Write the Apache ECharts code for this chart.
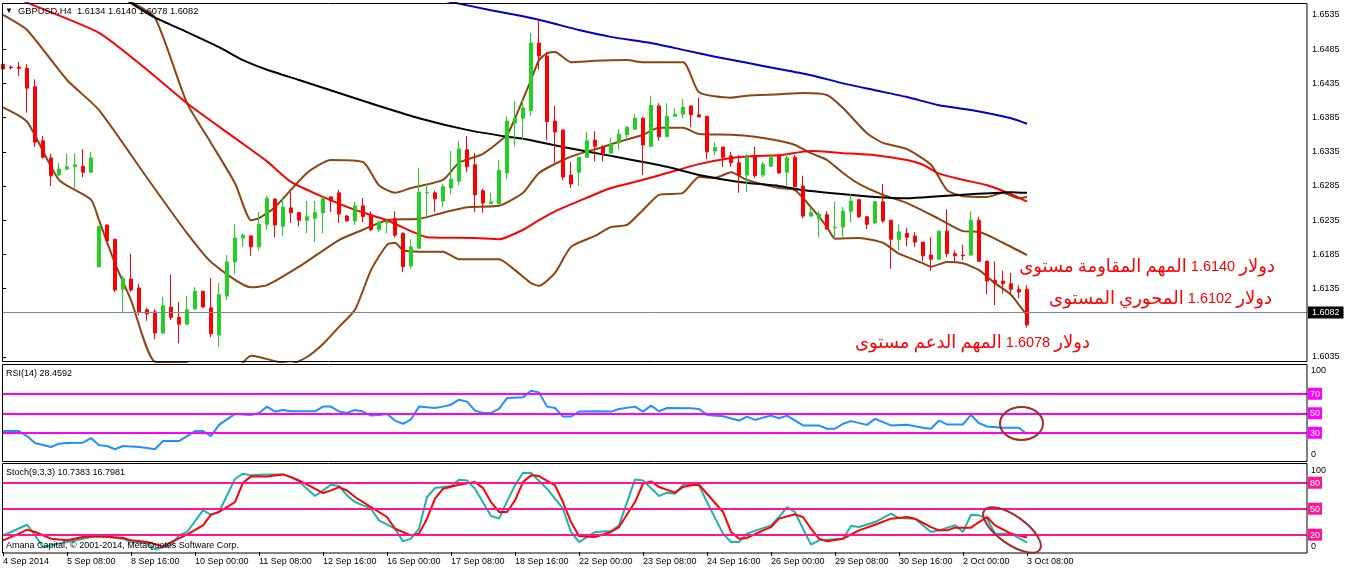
<!DOCTYPE html>
<html><head><meta charset="utf-8">
<script src="https://cdn.jsdelivr.net/npm/echarts@6/dist/echarts.min.js"></script>
<style>html,body{margin:0;padding:0;background:#fff}#c{width:1346px;height:571px}</style>
</head><body><div id="c"></div>
<script>
// ---------- DATA ----------
const symbolTitle = 'GBPUSD,H4';
const lastBar = {open: 1.6134, high: 1.6140, low: 1.6078, close: 1.6082};
const rsiTitle = 'RSI(14) 28.4592';
const stochTitle = 'Stoch(9,3,3) 10.7383 16.7981';
const copyright = 'Amana Capital, \u00A9 2001-2014, MetaQuotes Software Corp.';

const open = [1.6463,1.6459,1.6459,1.6457,1.6430,1.6351,1.6326,1.6301,1.6310,1.6313,
1.6314,1.6305,1.6167,1.6228,1.6207,1.6134,1.6149,1.6136,1.6104,1.6101,
1.6070,1.6108,1.6093,1.6083,1.6105,1.6131,1.6107,1.6067,1.6124,1.6174,
1.6209,1.6212,1.6196,1.6229,1.6266,1.6226,1.6253,1.6246,1.6235,1.6238,
1.6246,1.6269,1.6275,1.6241,1.6234,1.6256,1.6243,1.6221,1.6231,1.6237,
1.6216,1.6168,1.6194,1.6275,1.6275,1.6263,1.6282,1.6292,1.6338,1.6316,
1.6278,1.6259,1.6259,1.6304,1.6377,1.6384,1.6395,1.6494,1.6475,1.6380,
1.6367,1.6301,1.6305,1.6327,1.6352,1.6342,1.6333,1.6348,1.6360,1.6368,
1.6384,1.6343,1.6402,1.6357,1.6387,1.6390,1.6402,1.6389,1.6387,1.6336,
1.6342,1.6329,1.6319,1.6301,1.6329,1.6301,1.6314,1.6330,1.6305,1.6327,
1.6285,1.6241,1.6237,1.6243,1.6224,1.6225,1.6248,1.6265,1.6240,1.6231,
1.6262,1.6235,1.6207,1.6216,1.6212,1.6203,1.6184,1.6178,1.6219,1.6186,
1.6184,1.6184,1.6235,1.6175,1.6147,1.6146,1.6142,1.6134,1.6134];
const high = [1.6465,1.6461,1.6466,1.6463,1.6441,1.6358,1.6332,1.6319,1.6332,1.6332,
1.6339,1.6335,1.6227,1.6229,1.6208,1.6153,1.6186,1.6142,1.6107,1.6105,
1.6123,1.6155,1.6115,1.6124,1.6137,1.6132,1.6150,1.6143,1.6184,1.6229,
1.6216,1.6213,1.6247,1.6270,1.6267,1.6269,1.6276,1.6247,1.6263,1.6263,
1.6269,1.6270,1.6279,1.6243,1.6262,1.6267,1.6248,1.6235,1.6238,1.6248,
1.6217,1.6207,1.6311,1.6289,1.6278,1.6288,1.6336,1.6351,1.6358,1.6333,
1.6281,1.6275,1.6323,1.6387,1.6409,1.6411,1.6509,1.6528,1.6481,1.6402,
1.6367,1.6320,1.6327,1.6364,1.6365,1.6345,1.6355,1.6368,1.6372,1.6390,
1.6386,1.6417,1.6406,1.6406,1.6399,1.6412,1.6402,1.6414,1.6387,1.6349,
1.6342,1.6335,1.6330,1.6332,1.6342,1.6320,1.6332,1.6331,1.6332,1.6330,
1.6300,1.6253,1.6248,1.6248,1.6262,1.6254,1.6273,1.6266,1.6241,1.6263,
1.6288,1.6235,1.6229,1.6224,1.6218,1.6203,1.6210,1.6220,1.6251,1.6191,
1.6199,1.6248,1.6240,1.6176,1.6175,1.6161,1.6158,1.6140,1.6140];
const low = [1.6455,1.6455,1.6446,1.6392,1.6342,1.6325,1.6285,1.6300,1.6308,1.6282,
1.6298,1.6304,1.6166,1.6204,1.6130,1.6099,1.6130,1.6096,1.6088,1.6061,
1.6069,1.6089,1.6055,1.6082,1.6105,1.6107,1.6064,1.6050,1.6118,1.6156,
1.6196,1.6183,1.6191,1.6221,1.6210,1.6212,1.6231,1.6226,1.6216,1.6203,
1.6216,1.6247,1.6231,1.6233,1.6228,1.6232,1.6219,1.6218,1.6216,1.6210,
1.6159,1.6164,1.6194,1.6240,1.6247,1.6254,1.6273,1.6286,1.6305,1.6247,
1.6246,1.6259,1.6258,1.6295,1.6343,1.6352,1.6387,1.6455,1.6352,1.6319,
1.6294,1.6282,1.6285,1.6327,1.6321,1.6321,1.6333,1.6338,1.6355,1.6368,
1.6301,1.6343,1.6351,1.6357,1.6386,1.6384,1.6371,1.6386,1.6324,1.6330,
1.6313,1.6313,1.6275,1.6276,1.6297,1.6298,1.6313,1.6303,1.6284,1.6284,
1.6238,1.6240,1.6210,1.6221,1.6210,1.6210,1.6232,1.6238,1.6222,1.6229,
1.6231,1.6164,1.6191,1.6197,1.6196,1.6175,1.6161,1.6177,1.6181,1.6174,
1.6177,1.6183,1.6174,1.6127,1.6111,1.6128,1.6128,1.6121,1.6078];
const close = [1.6456,1.6458,1.6457,1.6428,1.6349,1.6327,1.6300,1.6310,1.6313,1.6316,
1.6305,1.6326,1.6226,1.6205,1.6133,1.6150,1.6133,1.6101,1.6098,1.6070,
1.6110,1.6093,1.6083,1.6104,1.6131,1.6108,1.6069,1.6126,1.6174,1.6209,
1.6213,1.6196,1.6229,1.6267,1.6228,1.6254,1.6246,1.6235,1.6240,1.6246,
1.6267,1.6263,1.6244,1.6234,1.6256,1.6240,1.6221,1.6232,1.6232,1.6213,
1.6167,1.6196,1.6276,1.6276,1.6266,1.6284,1.6295,1.6339,1.6313,1.6272,
1.6260,1.6262,1.6308,1.6380,1.6384,1.6399,1.6494,1.6475,1.6379,1.6364,
1.6298,1.6288,1.6327,1.6351,1.6343,1.6333,1.6346,1.6361,1.6371,1.6384,
1.6345,1.6403,1.6357,1.6387,1.6390,1.6400,1.6389,1.6386,1.6335,1.6341,
1.6327,1.6319,1.6301,1.6327,1.6300,1.6317,1.6327,1.6304,1.6326,1.6284,
1.6241,1.6246,1.6244,1.6222,1.6225,1.6248,1.6263,1.6240,1.6229,1.6262,
1.6234,1.6207,1.6218,1.6210,1.6203,1.6183,1.6178,1.6219,1.6186,1.6183,
1.6183,1.6235,1.6175,1.6146,1.6143,1.6142,1.6134,1.6130,1.6082];

// indicator lines: [bar index, value]
const bbUpper = [[0,1.6669],[3,1.6648],[8,1.6601],[12,1.6574],[16,1.6554],[19,1.6531],[23,1.6406],[26,1.6348],[29,1.6289],[31,1.6235],[32,1.6238],[34,1.6254],[38,1.6304],[41,1.6323],[45,1.6320],[47,1.6286],[49,1.6275],[51,1.6282],[55,1.6294],[57,1.6319],[60,1.6332],[63,1.6360],[64,1.6384],[66,1.6440],[67,1.6469],[68,1.6479],[69,1.6481],[71,1.6466],[74,1.6468],[78,1.6469],[80,1.6466],[85,1.6466],[87,1.6422],[91,1.6414],[93,1.6417],[97,1.6419],[100,1.6421],[103,1.6418],[105,1.6399],[108,1.6362],[110,1.6348],[113,1.6339],[116,1.6316],[118,1.6279],[120,1.6270],[123,1.6269],[125,1.6275],[127,1.6267],[128,1.6269]];
const bbMiddle = [[0,1.6535],[3,1.6513],[8,1.6440],[12,1.6396],[18,1.6297],[23,1.6216],[26,1.6174],[31,1.6137],[33,1.6140],[37,1.6167],[42,1.6206],[45,1.6221],[48,1.6235],[52,1.6237],[55,1.6246],[58,1.6254],[62,1.6256],[65,1.6275],[67,1.6304],[70,1.6323],[72,1.6332],[75,1.6342],[76,1.6346],[80,1.6360],[82,1.6370],[85,1.6370],[87,1.6361],[91,1.6360],[94,1.6357],[97,1.6351],[99,1.6345],[101,1.6333],[103,1.6323],[105,1.6304],[107,1.6288],[110,1.6272],[113,1.6260],[117,1.6237],[120,1.6219],[122,1.6218],[125,1.6202],[128,1.6184]];
const bbLower = [[0,1.6400],[3,1.6379],[7,1.6294],[11,1.6265],[12,1.6235],[14,1.6172],[16,1.6118],[19,1.6028],[23,1.6026],[26,1.6000],[29,1.6015],[31,1.6037],[32,1.6035],[34,1.6029],[36,1.6025],[38,1.6035],[40,1.6054],[42,1.6079],[44,1.6104],[46,1.6162],[48,1.6199],[49,1.6202],[50,1.6191],[52,1.6189],[55,1.6189],[57,1.6178],[62,1.6178],[64,1.6162],[66,1.6143],[67,1.6139],[69,1.6158],[71,1.6196],[74,1.6212],[76,1.6225],[78,1.6228],[80,1.6250],[82,1.6272],[85,1.6275],[87,1.6298],[89,1.6297],[91,1.6305],[93,1.6294],[97,1.6282],[99,1.6279],[101,1.6254],[103,1.6225],[104,1.6208],[107,1.6209],[110,1.6202],[112,1.6186],[115,1.6172],[116,1.6167],[118,1.6174],[120,1.6172],[122,1.6162],[124,1.6143],[126,1.6126],[127,1.6111],[128,1.6096]];
const maRed = [[0,1.6568],[3,1.6553],[12,1.6509],[18,1.6455],[23,1.6406],[29,1.6355],[33,1.6321],[36,1.6291],[40,1.6269],[44,1.6250],[48,1.6235],[51,1.6219],[53,1.6210],[59,1.6209],[62,1.6207],[65,1.6221],[67,1.6235],[69,1.6248],[72,1.6263],[76,1.6282],[80,1.6294],[83,1.6304],[87,1.6317],[91,1.6326],[94,1.6329],[97,1.6330],[101,1.6336],[105,1.6333],[109,1.6330],[113,1.6323],[115,1.6316],[117,1.6303],[120,1.6294],[123,1.6286],[126,1.6273],[128,1.6262]];
const maBlack = [[15,1.6560],[17,1.6545],[19,1.6531],[23,1.6510],[27,1.6488],[30,1.6469],[33,1.6455],[37,1.6440],[42,1.6421],[47,1.6402],[52,1.6384],[58,1.6367],[63,1.6357],[65,1.6354],[70,1.6342],[76,1.6329],[83,1.6313],[87,1.6301],[92,1.6291],[97,1.6285],[100,1.6279],[103,1.6275],[109,1.6269],[113,1.6267],[117,1.6270],[121,1.6273],[126,1.6276],[128,1.6275]];
const maBlue = [[50,1.6569],[56,1.6554],[61,1.6542],[65,1.6533],[68,1.6525],[72,1.6513],[76,1.6503],[81,1.6494],[85,1.6484],[89,1.6474],[93,1.6465],[97,1.6456],[101,1.6447],[105,1.6435],[109,1.6425],[113,1.6415],[117,1.6403],[121,1.6396],[126,1.6384],[128,1.6376]];
const rsi = [[0,31.7],[2,31.7],[3,26.6],[4,19.5],[6,15.4],[7,18.8],[8,19.5],[10,19.8],[11,24.6],[12,17.1],[13,16.4],[14,13.1],[15,16.4],[17,15.4],[18,14.4],[19,13.1],[20,21.5],[22,21.5],[24,31.7],[25,31.7],[26,26.6],[27,38.1],[29,49.3],[31,48.3],[32,50.3],[33,56.8],[34,51.7],[35,53.4],[36,52.0],[39,52.0],[40,56.8],[41,56.8],[42,51.7],[43,50.3],[44,53.4],[45,51.7],[46,47.6],[47,48.3],[48,49.3],[49,42.5],[50,39.2],[51,43.6],[52,56.8],[54,55.4],[55,56.8],[56,58.8],[57,63.9],[58,61.9],[59,52.7],[60,50.3],[61,50.3],[62,54.4],[63,65.6],[65,66.3],[66,73.1],[67,71.4],[68,56.8],[69,55.4],[70,46.6],[71,46.6],[72,51.7],[74,52.0],[76,51.7],[77,54.4],[79,56.8],[80,51.7],[81,57.8],[82,52.0],[83,55.4],[86,55.2],[87,54.4],[88,48.3],[90,46.9],[92,42.5],[93,46.6],[94,43.2],[96,47.6],[97,44.9],[98,47.6],[100,37.5],[102,37.5],[103,34.1],[104,34.1],[105,39.2],[106,41.9],[108,38.1],[109,44.2],[111,37.5],[113,38.1],[115,35.1],[116,34.1],[117,42.5],[118,38.5],[120,38.5],[121,48.3],[122,39.8],[123,36.4],[125,35.1],[127,35.1],[128,28.5]];
const stochK = [[0,19.2],[1,23.1],[3,31.5],[4,19.2],[5,5.8],[6,7.7],[8,11.5],[10,15.4],[11,17.3],[13,17.3],[15,15.4],[16,11.5],[18,10.4],[19,3.1],[21,7.7],[22,19.2],[23,23.1],[25,48.1],[26,43.1],[27,46.2],[29,84.6],[30,90.4],[31,88.5],[33,89.6],[35,89.6],[36,86.5],[37,81.5],[39,64.6],[40,71.2],[41,77.7],[42,76.2],[43,65.4],[44,57.7],[45,53.8],[46,50.0],[47,36.5],[49,26.9],[50,12.3],[51,15.4],[52,26.9],[53,63.5],[54,73.8],[56,76.2],[57,83.5],[58,82.7],[59,73.1],[61,41.5],[62,38.5],[63,58.5],[64,76.9],[65,91.5],[66,91.2],[68,73.1],[70,50.0],[71,23.1],[72,11.5],[74,23.1],[76,24.2],[77,30.8],[79,83.8],[80,82.7],[82,64.6],[83,68.5],[84,67.3],[85,77.7],[86,78.5],[87,76.9],[88,57.7],[90,21.2],[91,11.5],[92,11.5],[93,21.2],[96,30.8],[97,40.4],[98,51.9],[99,46.2],[100,26.9],[101,8.5],[102,13.5],[105,15.4],[106,30.0],[107,28.8],[109,34.6],[111,44.2],[112,39.2],[114,38.5],[116,23.1],[117,25.0],[119,30.8],[120,23.1],[121,43.1],[122,42.3],[123,38.5],[124,21.2],[126,21.2],[128,10.7]];
const stochD = [[0,13.5],[2,21.2],[3,25.8],[4,23.1],[6,15.4],[8,13.5],[10,17.3],[12,18.5],[15,16.2],[16,13.5],[18,11.5],[20,6.5],[21,11.5],[23,20.0],[25,30.8],[26,43.1],[27,46.2],[29,57.7],[30,80.0],[31,87.3],[33,87.3],[35,89.6],[36,86.5],[37,82.7],[39,73.1],[40,68.1],[41,71.2],[42,75.0],[43,71.0],[44,63.5],[46,51.9],[48,40.4],[49,26.9],[51,19.2],[52,21.2],[53,38.5],[54,61.5],[55,73.1],[57,77.7],[59,80.8],[60,73.8],[61,57.7],[62,46.2],[63,46.2],[64,59.6],[65,80.8],[66,88.5],[67,87.7],[69,76.9],[70,57.7],[71,34.6],[72,18.5],[74,17.3],[76,23.1],[77,28.8],[79,57.7],[80,78.8],[81,81.5],[82,75.0],[84,68.5],[85,75.0],[86,77.0],[87,77.7],[88,67.3],[90,46.2],[91,23.1],[92,15.4],[93,16.2],[95,25.0],[96,28.8],[97,38.5],[99,43.5],[100,40.4],[101,26.9],[102,15.4],[103,12.3],[105,15.4],[107,25.0],[109,31.5],[111,38.5],[113,40.4],[114,38.5],[116,28.8],[117,25.0],[118,25.0],[119,28.1],[121,28.1],[122,34.6],[123,40.4],[124,30.8],[126,21.2],[128,16.8]];

const priceTicks = [1.6035,1.6135,1.6185,1.6235,1.6285,1.6335,1.6385,1.6435,1.6485,1.6535];
const currentPrice = 1.6082;
const rsiLevels = [30, 50, 70];
const stochLevels = [20, 50, 80];
const tickBars = [0,8,16,24,32,40,48,56,64,72,80,88,96,104,112,120,128];
const tickLabels = ['4 Sep 2014','5 Sep 08:00','8 Sep 16:00','10 Sep 00:00','11 Sep 08:00','12 Sep 16:00','16 Sep 00:00','17 Sep 08:00','18 Sep 16:00','22 Sep 00:00','23 Sep 08:00','24 Sep 16:00','26 Sep 00:00','29 Sep 08:00','30 Sep 16:00','2 Oct 00:00','3 Oct 08:00'];
const resistanceLevel = '1.6140', pivotLevel = '1.6102', supportLevel = '1.6078';
const note1 = ['مستوى','المقاومة','المهم', resistanceLevel, 'دولار'];
const note2 = ['المستوى','المحوري', pivotLevel, 'دولار'];
const note3 = ['مستوى','الدعم','المهم', supportLevel, 'دولار'];

// ---------- CHART ----------
const FONT = '"Liberation Sans", Arial, sans-serif';
const GREEN = '#22d022', RED = '#ff0000';
const candles = open.map((o, i) => [i, o, close[i], low[i], high[i]]);

const chart = echarts.init(document.getElementById('c'), null, {renderer: 'canvas', width: 1346, height: 571});
const xBase = {type: 'value', min: -0.125, max: 163, splitLine: {show: false}, axisLine: {show: false}};
const lineS = (data, color, extra) => Object.assign({type: 'line', data, showSymbol: false, symbol: 'none', clip: true,
  lineStyle: {color, width: 2}, z: 2, animation: false, silent: true}, extra || {});

const txt = (text, x, y, opts) => ({type: 'text', x, y, z: 100, silent: true, style: Object.assign({
  text, fill: '#000', font: '9px ' + FONT, align: 'left', verticalAlign: 'middle', textAlign: 'left', textVerticalAlign: 'middle'}, opts || {})});

const note = (words, xRight, y) => ({type: 'text', x: xRight, y, z: 100, silent: true, style: {
  text: words.map(w => /^[0-9.]+$/.test(w) ? '{n|' + w + '}' : '{a|' + w + '}').join('{s| }'),
  align: 'right', verticalAlign: 'middle', textAlign: 'right', textVerticalAlign: 'middle',
  fill: '#ff0000', fontSize: 15, fontFamily: FONT,
  rich: {
    a: {fill: '#ff0000', fontSize: 18, fontFamily: '"DejaVu Sans", sans-serif'},
    n: {fill: '#ff0000', fontSize: 14.5, fontFamily: FONT},
    s: {fill: '#ff0000', fontSize: 15, fontFamily: FONT}
  }}});

chart.setOption({
  animation: false,
  backgroundColor: '#fff',
  grid: [
    {left: 2, width: 1305, top: 3, height: 359},
    {left: 2, width: 1305, top: 364.5, height: 97.5},
    {left: 2, width: 1305, top: 465.4, height: 86.6}
  ],
  xAxis: [
    Object.assign({gridIndex: 0, show: false}, xBase),
    Object.assign({gridIndex: 1, show: false}, xBase),
    Object.assign({gridIndex: 2,
      axisTick: {show: true, customValues: tickBars, length: 4, lineStyle: {color: '#000', width: 1}},
      axisLabel: {show: true, customValues: tickBars, margin: 5, align: 'left', color: '#000', fontSize: 9, fontFamily: FONT,
        formatter: v => tickLabels[tickBars.indexOf(Math.round(v))] || ''}}, xBase)
  ],
  yAxis: [
    {type: 'value', gridIndex: 0, position: 'right', min: 1.60277, max: 1.65525, scale: true,
      splitLine: {show: false}, axisLine: {show: false},
      axisTick: {show: true, customValues: priceTicks, length: 3, lineStyle: {color: '#000'}},
      axisLabel: {show: true, customValues: priceTicks, margin: 5, color: '#000', fontSize: 9, fontFamily: FONT,
        formatter: v => v.toFixed(4)}},
    {type: 'value', gridIndex: 1, position: 'right', min: 0, max: 100,
      splitLine: {show: false}, axisLine: {show: false}, axisTick: {show: false},
      axisLabel: {show: true, customValues: [0, 30, 50, 70, 100], margin: 1,
        formatter: v => v === 100 ? '{hi|100}' : (v === 0 ? '{lo|0}' : '{lv|' + v + '}'),
        rich: {
          lv: {backgroundColor: '#ff00ff', color: '#fff', fontSize: 9, fontFamily: FONT, padding: [2, 2, 1, 2]},
          hi: {color: '#000', fontSize: 9, fontFamily: FONT, padding: [13, 0, 0, 3]},
          lo: {color: '#000', fontSize: 9, fontFamily: FONT, padding: [0, 0, 14, 3]}
        }}},
    {type: 'value', gridIndex: 2, position: 'right', min: 0, max: 100,
      splitLine: {show: false}, axisLine: {show: false}, axisTick: {show: false},
      axisLabel: {show: true, customValues: [0, 20, 50, 80, 100], margin: 1,
        formatter: v => v === 100 ? '{hi|100}' : (v === 0 ? '{lo|0}' : '{lv|' + v + '}'),
        rich: {
          lv: {backgroundColor: '#ff1493', color: '#fff', fontSize: 9, fontFamily: FONT, padding: [2, 2, 1, 2]},
          hi: {color: '#000', fontSize: 9, fontFamily: FONT, padding: [11, 0, 0, 3]},
          lo: {color: '#000', fontSize: 9, fontFamily: FONT, padding: [0, 0, 10, 3]}
        }}}
  ],
  series: [
    lineS(bbUpper, '#8b4513', {smooth: 0.2}),
    lineS(bbMiddle, '#8b4513', {smooth: 0.2}),
    lineS(bbLower, '#8b4513', {smooth: 0.2}),
    lineS(maRed, '#ff0000', {smooth: 0.2}),
    lineS(maBlack, '#000000', {smooth: 0.2}),
    lineS(maBlue, '#0000cd', {smooth: 0.2}),
    {type: 'candlestick', xAxisIndex: 0, yAxisIndex: 0, data: candles, barWidth: 4, z: 3, clip: true, silent: true,
      itemStyle: {color: GREEN, color0: RED, borderColor: GREEN, borderColor0: RED, borderWidth: 1},
      markLine: {silent: true, symbol: ['none', 'none'], animation: false, data: [{yAxis: currentPrice}],
        lineStyle: {color: '#778899', width: 1, type: 'solid'},
        label: {show: true, position: 'end', distance: 1, formatter: currentPrice.toFixed(4),
          backgroundColor: '#000', color: '#fff', fontSize: 9, fontFamily: FONT, padding: [2, 4, 1, 4]}}},
    lineS(rsi, '#1e90ff', {xAxisIndex: 1, yAxisIndex: 1,
      markLine: {silent: true, symbol: ['none', 'none'], animation: false, label: {show: false},
        data: rsiLevels.map(v => ({yAxis: v})), lineStyle: {color: '#ff00ff', width: 2, type: 'solid'}}}),
    lineS(stochK, '#20b2aa', {xAxisIndex: 2, yAxisIndex: 2,
      markLine: {silent: true, symbol: ['none', 'none'], animation: false, label: {show: false},
        data: stochLevels.map(v => ({yAxis: v})), lineStyle: {color: '#ff1493', width: 2, type: 'solid'}}}),
    lineS(stochD, '#ff0000', {xAxisIndex: 2, yAxisIndex: 2, z: 3})
  ],
  graphic: [
    {type: 'rect', silent: true, z: 90, shape: {x: 2.5, y: 3.5, width: 1304.5, height: 358}, style: {fill: 'none', stroke: '#000', lineWidth: 1}},
    {type: 'rect', silent: true, z: 90, shape: {x: 2.5, y: 364.5, width: 1304.5, height: 97}, style: {fill: 'none', stroke: '#000', lineWidth: 1}},
    {type: 'rect', silent: true, z: 90, shape: {x: 2.5, y: 463.5, width: 1304.5, height: 89.5}, style: {fill: 'none', stroke: '#000', lineWidth: 1}},
    txt('\u25BC', 5, 11, {font: '8px ' + FONT}),
    txt(symbolTitle + '  ' + [lastBar.open, lastBar.high, lastBar.low, lastBar.close].map(v => v.toFixed(4)).join(' '), 18, 11, {font: '9.3px ' + FONT}),
    txt(rsiTitle, 6, 374),
    txt(stochTitle, 6, 473),
    txt(copyright, 6, 546),
    note(note1, 1275, 267),
    note(note2, 1272, 299),
    note(note3, 1090, 343),
    {type: 'ellipse', silent: true, z: 95, x: 1021.5, y: 423.5, shape: {cx: 0, cy: 0, rx: 21.5, ry: 16.5},
      style: {fill: 'none', stroke: '#a52a2a', lineWidth: 2}},
    {type: 'ellipse', silent: true, z: 95, x: 1012, y: 530, rotation: -0.62, shape: {cx: 0, cy: 0, rx: 34, ry: 14},
      style: {fill: 'none', stroke: '#a52a2a', lineWidth: 2}}
  ]
});
</script>
</body></html>
